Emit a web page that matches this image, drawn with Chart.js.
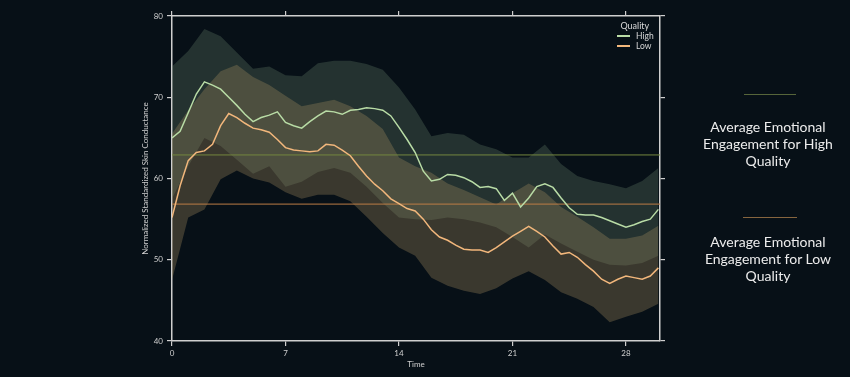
<!DOCTYPE html>
<html lang="en">
<head>
    <meta charset="UTF-8">
    <title>Skin Conductance by Quality</title>
    <style>
        html, body { margin: 0; padding: 0; background: #071017; }
        #wrap { position: relative; width: 850px; height: 377px; font-family: Lato, 'Noto Sans', sans-serif; }
        canvas { position: absolute; left: 0; top: 0; }
        .legend { position: absolute; left: 612px; top: 21px; color: #d8d8d8; font-size: 8.5px; line-height: 10px; }
        .legend .ttl { text-align: center; margin-left: 4px; font-size: 9px; }
        .legend .row { display: flex; align-items: center; }
        .legend .key { width: 13px; height: 1.5px; margin: 0 6px 0 5px; }
        .note { position: absolute; left: 683px; width: 170px; text-align: center; color: #ececec; font-size: 14px; line-height: 17px; }
        .mark { position: absolute; height: 1px; }
    </style>
</head>
<body>
<div id="wrap">
    <canvas id="myChart" width="850" height="377"></canvas>

    <div class="legend">
        <div class="ttl">Quality</div>
        <div class="row"><span class="key" style="background:#b9dca6"></span>High</div>
        <div class="row"><span class="key" style="background:#f2b77c"></span>Low</div>
    </div>

    <div class="mark" style="left:744px; top:94px; width:52px; background:#56653a;"></div>
    <div class="note" style="top:118px;">Average Emotional<br>Engagement for High<br>Quality</div>

    <div class="mark" style="left:743px; top:217px; width:54px; background:#86653f;"></div>
    <div class="note" style="top:233px;">Average Emotional<br>Engagement for Low<br>Quality</div>
</div>

<script src="https://cdn.jsdelivr.net/npm/chart.js"></script>
<script>
    // tempo das linhas médias (passo 0.5) e das faixas (passo 1)
    const lineTimes = [];
    for (let i = 0; i <= 60; i++) lineTimes.push(i / 2);
    const bandTimes = [];
    for (let i = 0; i <= 30; i++) bandTimes.push(i);

    const highMean = [65.0, 65.8, 68.1, 70.4, 71.9, 71.5, 71.0, 70.0, 69.0, 67.9,
        67.0, 67.5, 67.8, 68.2, 66.9, 66.5, 66.2, 67.0, 67.7, 68.3,
        68.2, 67.9, 68.4, 68.5, 68.7, 68.6, 68.4, 67.7, 66.3, 64.8,
        63.2, 60.9, 59.7, 59.9, 60.5, 60.4, 60.1, 59.6, 58.9, 59.0,
        58.75, 57.3, 58.2, 56.5, 57.6, 59.0, 59.35, 58.9, 57.6, 56.4,
        55.6, 55.5, 55.5, 55.2, 54.8, 54.4, 54.0, 54.3, 54.7, 55.0, 56.2];

    const lowMean = [55.2, 59.1, 62.2, 63.2, 63.4, 64.2, 66.5, 68.0, 67.5, 66.8,
        66.2, 66.0, 65.7, 64.8, 63.8, 63.5, 63.4, 63.3, 63.4, 64.2,
        64.1, 63.5, 62.8, 61.5, 60.3, 59.3, 58.5, 57.5, 56.9, 56.3,
        56.0, 55.0, 53.7, 52.8, 52.4, 51.8, 51.3, 51.2, 51.2, 50.9,
        51.5, 52.2, 52.9, 53.5, 54.1, 53.5, 52.8, 51.7, 50.7, 50.9,
        50.3, 49.4, 48.6, 47.6, 47.1, 47.6, 48.0, 47.8, 47.6, 48.0, 49.0];

    const highUpper = [73.8, 75.7, 78.4, 77.5, 75.5, 73.5, 73.8, 72.7, 72.6, 74.2,
        74.5, 74.5, 74.1, 73.4, 71.2, 68.5, 65.2, 65.6, 65.4, 64.2,
        63.6, 62.6, 62.6, 64.2, 61.8, 60.3, 59.7, 59.3, 58.8, 59.7, 61.3];
    const highLower = [57.5, 61.5, 65.0, 64.0, 62.3, 60.6, 61.5, 59.0, 59.6, 60.8,
        61.3, 60.7, 59.0, 57.0, 55.2, 55.0, 54.9, 55.2, 55.0, 54.6,
        54.0, 52.8, 51.5, 53.1, 52.0, 51.0, 50.0, 49.4, 49.3, 49.6, 50.5];

    const lowUpper = [65.5, 68.4, 71.0, 73.2, 74.0, 72.5, 71.5, 70.2, 68.9, 69.3,
        69.7, 68.9, 67.7, 66.1, 62.6, 61.5, 60.7, 59.4, 58.6, 57.7,
        56.8, 58.2, 59.4, 58.3, 56.5, 55.3, 54.0, 52.6, 52.6, 53.0, 54.2];
    const lowLower = [47.5, 55.2, 56.2, 59.9, 61.0, 60.0, 59.5, 58.3, 57.5, 58.0,
        58.0, 57.2, 55.3, 53.3, 51.5, 50.5, 47.8, 46.8, 46.2, 45.8,
        46.5, 47.7, 48.6, 47.5, 46.0, 45.2, 44.2, 42.3, 43.0, 43.6, 44.6];

    const highAverage = 62.9;
    const lowAverage = 56.85;

    const xTicks = [0, 7, 14, 21, 28];
    const yTicks = [40, 50, 60, 70, 80];
    const xMin = 0, xMax = 30.1;

    const pts = (xs, ys) => xs.map((x, i) => ({ x: x, y: ys[i] }));
    const flat = (v) => [{ x: xMin, y: v }, { x: xMax, y: v }];

    const axisColor = '#cfcfcf';
    const tickFont = { family: 'Lato', size: 8 };

    function axisGrid() {
        return { drawOnChartArea: false, drawTicks: true, tickLength: 5, color: axisColor, lineWidth: 1.2 };
    }

    const ctx = document.getElementById('myChart');
    Chart.defaults.color = axisColor;

    new Chart(ctx, {
        type: 'line',
        data: {
            datasets: [
                { label: 'High upper', data: pts(bandTimes, highUpper), fill: { target: 1 },
                  backgroundColor: 'rgba(110, 140, 115, 0.28)', borderWidth: 0, pointRadius: 0, order: 10 },
                { label: 'High lower', data: pts(bandTimes, highLower), fill: false,
                  borderWidth: 0, pointRadius: 0, order: 10 },
                { label: 'Low upper', data: pts(bandTimes, lowUpper), fill: { target: 3 },
                  backgroundColor: 'rgba(165, 140, 95, 0.33)', borderWidth: 0, pointRadius: 0, order: 9 },
                { label: 'Low lower', data: pts(bandTimes, lowLower), fill: false,
                  borderWidth: 0, pointRadius: 0, order: 9 },
                { label: 'High avg', data: flat(highAverage), borderColor: '#75873f', borderWidth: 1,
                  pointRadius: 0, fill: false, order: 5 },
                { label: 'Low avg', data: flat(lowAverage), borderColor: '#bd7d45', borderWidth: 1,
                  pointRadius: 0, fill: false, order: 5 },
                { label: 'High', data: pts(lineTimes, highMean), borderColor: '#b9dca6', borderWidth: 1.5,
                  pointRadius: 0, fill: false, order: 1 },
                { label: 'Low', data: pts(lineTimes, lowMean), borderColor: '#f2b77c', borderWidth: 1.5,
                  pointRadius: 0, fill: false, order: 1 }
            ]
        },
        options: {
            responsive: false,
            animation: false,
            layout: { padding: { left: 141, right: 180, top: 0, bottom: 0 } },
            plugins: { legend: { display: false }, tooltip: { enabled: false } },
            scales: {
                x: {
                    type: 'linear', position: 'bottom', min: xMin, max: xMax,
                    afterBuildTicks: s => { s.ticks = xTicks.map(v => ({ value: v })); },
                    afterFit: s => { s.height = 36; },
                    ticks: { font: tickFont, color: axisColor, padding: 3, maxRotation: 0 },
                    grid: axisGrid(),
                    border: { color: axisColor, width: 1.5 },
                    title: { display: true, text: 'Time', font: tickFont, color: axisColor, padding: { top: 0, bottom: 8 } }
                },
                x2: {
                    type: 'linear', position: 'top', min: xMin, max: xMax,
                    afterBuildTicks: s => { s.ticks = xTicks.map(v => ({ value: v })); },
                    afterFit: s => { s.height = 16; },
                    ticks: { display: false },
                    grid: axisGrid(),
                    border: { color: axisColor, width: 1.5 }
                },
                y: {
                    type: 'linear', position: 'left', min: 40, max: 80,
                    afterBuildTicks: s => { s.ticks = yTicks.map(v => ({ value: v })); },
                    afterFit: s => { s.width = 31; },
                    ticks: { font: tickFont, color: axisColor, padding: 4 },
                    grid: axisGrid(),
                    border: { color: axisColor, width: 1.5 },
                    title: { display: true, text: 'Normalized Standardized Skin Conductance', font: tickFont, color: axisColor, padding: { top: 0, bottom: 0 } }
                },
                y2: {
                    type: 'linear', position: 'right', min: 40, max: 80,
                    afterBuildTicks: s => { s.ticks = yTicks.map(v => ({ value: v })); },
                    afterFit: s => { s.width = 10; },
                    ticks: { display: false },
                    grid: axisGrid(),
                    border: { color: axisColor, width: 1.5 }
                }
            }
        }
    });
</script>
</body>
</html>
